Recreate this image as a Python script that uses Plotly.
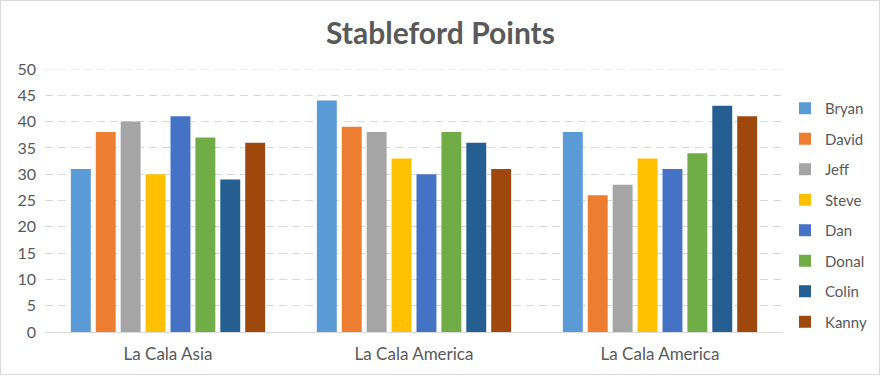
import plotly.graph_objects as go

categories = ["La Cala Asia", "La Cala America", "La Cala America"]
players = ["Bryan", "David", "Jeff", "Steve", "Dan", "Donal", "Colin", "Kanny"]
bryan = [31, 44, 38]
david = [38, 39, 26]
jeff = [40, 38, 28]
steve = [30, 33, 33]
dan = [41, 30, 31]
donal = [37, 38, 34]
colin = [29, 36, 43]
kanny = [36, 31, 41]
series = [bryan, david, jeff, steve, dan, donal, colin, kanny]
colors = ["#5B9BD5", "#ED7D31", "#A5A5A5", "#FFC000", "#4472C4", "#70AD47", "#255E91", "#9E480E"]
y_max = 50

W, H = 881, 376
ml, mr, mt, mb = 45, 98, 69, 44

xpos = list(range(len(categories)))

fig = go.Figure()
for name, vals, c in zip(players, series, colors):
    fig.add_trace(go.Bar(x=xpos, y=vals, name=name, legendgroup=name,
                         marker=dict(color=c, line=dict(width=0))))

pw = W - ml - mr
ph = H - mt - mb
fig.add_shape(type="rect", xref="paper", yref="paper",
              x0=-(ml - 0.5) / pw, x1=1 + (mr - 1.5) / pw,
              y0=-(mb - 1.5) / ph, y1=1 + (mt - 0.5) / ph,
              line=dict(color="#D9D9D9", width=1), layer="below")
fig.add_shape(type="line", xref="paper", yref="y", x0=0, x1=1, y0=y_max, y1=y_max,
              line=dict(color="#D9D9D9", width=1, dash="8px,5px"), layer="below")

fig.update_layout(
    width=W, height=H,
    margin=dict(l=ml, r=mr, t=mt, b=mb, autoexpand=False),
    paper_bgcolor="white", plot_bgcolor="white",
    font=dict(family="Lato, Open Sans, sans-serif", color="#595959", size=16),
    title=dict(text="<b>Stableford Points</b>", x=0.5, xanchor="center", y=1 - 33 / H, yanchor="middle",
               font=dict(size=30, color="#595959")),
    barmode="group", bargap=0.19, bargroupgap=0.2,
    legend=dict(x=1 + 2 / pw, xanchor="left", y=1 - 92 / ph + mt / ph, yanchor="top",
                font=dict(size=15, color="#595959"), tracegroupgap=8, itemwidth=30,
                bgcolor="rgba(0,0,0,0)"),
    xaxis=dict(tickvals=xpos, ticktext=categories, range=[-0.5, len(categories) - 0.5],
               showgrid=False, zeroline=False, showline=False, ticks="",
               tickfont=dict(size=17, color="#595959"), ticklabelstandoff=10),
    yaxis=dict(range=[0, y_max], tickvals=list(range(0, y_max + 1, 5)), showgrid=True, gridcolor="#D9D9D9",
               griddash="8px,5px", gridwidth=1, zeroline=True, zerolinecolor="#D9D9D9", zerolinewidth=1,
               showline=False, ticks="", tickfont=dict(size=16, color="#595959"),
               ticklabelstandoff=8),
)
fig.write_html("out.html", config={"displayModeBar": False},
               post_script="document.body.style.margin='0';document.body.style.overflow='hidden';")
